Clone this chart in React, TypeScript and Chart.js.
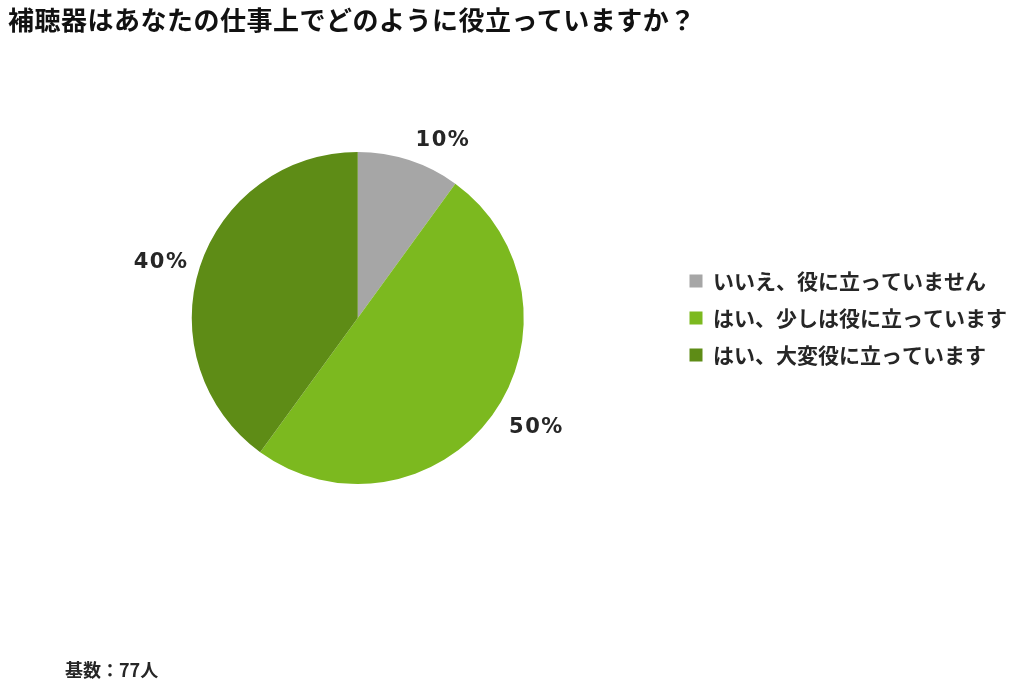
import { useEffect, useRef } from "react";
import { Chart, PieController, ArcElement, Legend, Tooltip } from "chart.js";

Chart.register(PieController, ArcElement, Legend, Tooltip);

const TITLE = "補聴器はあなたの仕事上でどのように役立っていますか？";
const FOOTNOTE = "基数：77人";
const ANSWERS = ["いいえ、役に立っていません", "はい、少しは役に立っています", "はい、大変役に立っています"];
const SHARES = [10, 50, 40];
const SLICE_COLORS = ["#a6a6a6", "#7cb91f", "#5e8c16"];

const JP_FONT = '"Noto Sans CJK JP", "Noto Sans", sans-serif';

// percent labels just outside each slice, left/right aligned by side
const outsideLabels = {
  id: "outsideLabels",
  afterDatasetsDraw(chart: Chart) {
    const ctx: any = chart.ctx;
    const meta = chart.getDatasetMeta(0);
    ctx.save();
    ctx.font = 'bold 21px "DejaVu Sans", sans-serif';
    ctx.letterSpacing = "1.5px";
    ctx.fillStyle = "#262626";
    ctx.textBaseline = "middle";
    meta.data.forEach((el: any, i: number) => {
      const mid = (el.startAngle + el.endAngle) / 2;
      const right = Math.cos(mid) >= 0;
      const r = el.outerRadius + (right ? 21 : 12);
      const x = el.x + Math.cos(mid) * r;
      const y = el.y + Math.sin(mid) * r;
      ctx.textAlign = right ? "left" : "right";
      ctx.fillText(SHARES[i] + "%", x, y);
    });
    ctx.restore();
  },
};

export default function App() {
  const canvasRef = useRef<HTMLCanvasElement>(null);

  useEffect(() => {
    document.body.style.margin = "0";
    if (!canvasRef.current) return;
    const chart = new Chart(canvasRef.current, {
      type: "pie",
      data: {
        labels: ANSWERS,
        datasets: [{
          data: SHARES,
          backgroundColor: SLICE_COLORS,
          borderWidth: 0,
        }],
      },
      options: {
        responsive: false,
        animation: false,
        layout: { padding: { top: 152, bottom: 206, left: 42, right: 7 } },
        plugins: {
          legend: {
            position: "right",
            labels: {
              boxWidth: 13,
              boxHeight: 13,
              padding: 16,
              color: "#262626",
              font: { family: JP_FONT, size: 21, weight: "bold" },
            },
          },
          tooltip: { enabled: false },
        },
      },
      plugins: [outsideLabels],
    });
    return () => chart.destroy();
  }, []);

  return (
    <div style={{ position: "relative", width: 1024, height: 690, background: "#fff" }}>
      <canvas ref={canvasRef} width={1024} height={690} style={{ position: "absolute", left: 0, top: 0 }} />
      <div style={{ position: "absolute", left: 8, top: 0, fontFamily: JP_FONT, fontWeight: 700, fontSize: 26, letterSpacing: 0.5, color: "#111", whiteSpace: "nowrap" }}>
        {TITLE}
      </div>
      <div style={{ position: "absolute", left: 65, top: 656, fontFamily: JP_FONT, fontWeight: 700, fontSize: 18, color: "#262626", whiteSpace: "nowrap" }}>
        {FOOTNOTE}
      </div>
    </div>
  );
}
